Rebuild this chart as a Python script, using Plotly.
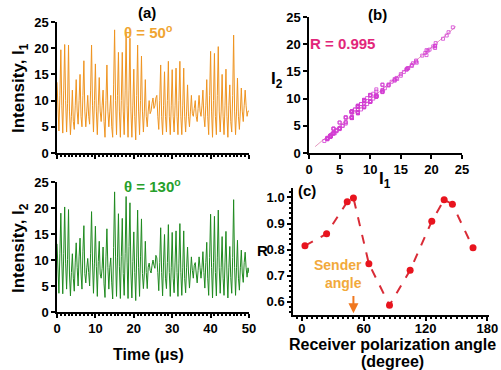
import numpy as np
import plotly.graph_objects as go

# ---------------- data ----------------
dt_us = 0.25  # sampling step of the traces (µs)
I1 = [13.5, 7, 4.2, 11, 19.7, 9, 3.8, 12, 20.7, 10, 4.0, 9.5, 20.6, 8, 3.5, 7, 12, 6, 4.5, 9,
      14, 8, 5.5, 10, 15, 7, 5, 11, 17.6, 8, 5, 8, 11, 7, 5.5, 12, 20.6, 9, 4, 10,
      17, 8, 3.5, 9, 14.4, 8, 6, 9, 12, 6, 3, 10, 16.8, 8, 5, 8, 11, 5, 3, 13,
      23.5, 10, 3.5, 11, 19.2, 8, 3, 10, 19.2, 8, 3.5, 12, 22.8, 9, 3, 12, 21.9, 8, 3, 9,
      16, 7, 2.5, 11, 20.6, 8, 3.5, 10, 18.5, 8, 4, 8, 14, 7, 5, 8, 10, 7.5, 8, 9.5,
      10.5, 8.5, 9, 10.5, 11, 7, 4.5, 10, 16.8, 7, 3.5, 9, 15.5, 7, 4, 10, 17.5, 7, 3.5, 9,
      15.9, 7, 4, 9, 16.2, 7, 3.5, 10, 17.5, 7, 3.5, 9, 16.2, 7, 4, 8, 13, 7, 5, 8,
      11, 7.5, 7, 8.5, 10, 7, 6, 8.5, 11, 8, 7, 9, 12, 7, 5, 9, 14, 7, 3.5, 11,
      19.4, 8, 3, 10, 19, 7, 3.5, 11, 20.3, 8, 4, 8, 15, 7, 3.5, 9, 16, 7, 3, 9,
      13, 6, 4, 11, 22.5, 8, 3.5, 8, 14.3, 7, 4.5, 8, 12.4, 8, 6, 9, 12, 9, 7, 8, 8]
I2 = [13.1, 7.6, 3.6, 11.3, 19.0, 9.8, 3.5, 11.2, 20.2, 9.4, 4.4, 10.1, 19.7, 7.3, 3.1, 7.6, 11.2, 6.5, 4.0, 9.6,
      13.3, 8.6, 5.0, 10.6, 14.2, 7.5, 4.4, 11.7, 16.6, 7.4, 5.6, 8.5, 10.3, 7.6, 5.0, 11.3, 19.3, 9.6, 3.6, 9.4,
      16.5, 8.7, 3.0, 9.7, 13.6, 7.3, 6.5, 8.4, 12.5, 5.4, 2.8, 10.6, 16.0, 8.6, 4.4, 8.6, 10.4, 5.6, 2.5, 12.4,
      23.1, 10.6, 3.0, 10.4, 18.9, 8.7, 2.6, 10.7, 18.0, 7.4, 3.2, 11.3, 22.2, 9.6, 2.6, 12.6, 21.0, 7.5, 2.7, 9.7,
      15.4, 7.6, 2.2, 10.4, 19.6, 8.6, 3.0, 10.6, 17.9, 7.4, 4.5, 7.5, 13.6, 7.6, 4.5, 8.6, 9.4, 8.0, 7.5, 9.0,
      10.0, 9.0, 8.4, 10.9, 10.4, 7.6, 4.1, 9.5, 16.2, 7.6, 3.1, 9.6, 14.9, 6.5, 4.5, 9.5, 16.8, 7.6, 3.0, 8.5,
      15.3, 6.5, 3.7, 9.6, 15.6, 7.6, 3.0, 9.4, 17.0, 7.6, 3.2, 8.5, 15.6, 6.4, 3.7, 8.6, 12.5, 7.5, 4.6, 7.5,
      10.6, 8.0, 6.5, 9.0, 9.5, 7.5, 5.6, 8.0, 10.6, 8.5, 6.5, 8.5, 11.6, 7.6, 4.6, 9.5, 13.4, 6.5, 3.2, 10.5,
      18.8, 8.6, 2.7, 9.5, 18.4, 7.6, 3.1, 10.4, 19.6, 8.5, 3.6, 8.6, 14.5, 6.5, 3.2, 9.6, 15.5, 7.5, 2.7, 8.5,
      12.6, 6.6, 3.6, 10.5, 21.6, 8.6, 3.2, 8.6, 13.8, 6.5, 4.2, 8.5, 11.9, 7.5, 5.7, 9.5, 11.5, 8.5, 6.7, 8.5, 7.5]
time_us = np.arange(len(I1)) * dt_us

angle_deg = [3, 24, 44, 50, 65, 85, 105, 126, 138, 146, 166]
R_vals = [0.815, 0.861, 0.983, 0.998, 0.746, 0.587, 0.721, 0.909, 0.991, 0.974, 0.807]
sender_angle = 50
R_text = "R = 0.995"

# ---------------- helpers ----------------
W, H = 501, 370
def px(x):
    return x / W
def py(y):
    return 1 - y / H

FONT = "Liberation Sans, Arial, Helvetica, sans-serif"
ORANGE = "#ef9420"
GREEN = "#1f8a1f"

fig = go.Figure()
fig.add_trace(go.Scatter(x=time_us, y=I1, mode="lines", line=dict(color=ORANGE, width=1),
                         xaxis="x", yaxis="y", showlegend=False))
fig.add_trace(go.Scatter(x=time_us, y=I2, mode="lines", line=dict(color=GREEN, width=1),
                         xaxis="x2", yaxis="y2", showlegend=False))

# scatter I2 vs I1 with fitted line
slope, icpt = np.polyfit(I1, I2, 1)
xfit = np.array([1.0, 24.0])
fig.add_trace(go.Scatter(x=xfit, y=slope * xfit + icpt, mode="lines",
                         line=dict(color="#e59ac0", width=1), xaxis="x3", yaxis="y3", showlegend=False))
fig.add_trace(go.Scatter(x=I1, y=I2, mode="markers",
                         marker=dict(symbol="square-open", size=3, color="#d33fd3", line=dict(width=0.8)),
                         xaxis="x3", yaxis="y3", showlegend=False))

# R vs angle
fig.add_trace(go.Scatter(x=angle_deg, y=R_vals, mode="lines+markers",
                         line=dict(color="#d92b36", width=2, dash="dash"),
                         marker=dict(color="#e8141e", size=7),
                         xaxis="x4", yaxis="y4", showlegend=False))

axis_common = dict(showline=True, linecolor="black", linewidth=1.5, ticks="outside", ticklen=4,
                   tickwidth=1.5, tickcolor="black", showgrid=False, zeroline=False, automargin=False,
                   ticklabeloverflow="allow",
                   tickfont=dict(family=FONT, size=13, color="black", weight="bold"))

fig.update_layout(
    width=W, height=H, margin=dict(l=0, r=0, t=0, b=0, autoexpand=False),
    paper_bgcolor="white", plot_bgcolor="white",
    xaxis=dict(axis_common, domain=[px(57), px(249)], range=[0, 50], anchor="y", dtick=10,
               showticklabels=False, minor=dict(ticks="outside", ticklen=2.5, dtick=1, tickcolor="black")),
    yaxis=dict(axis_common, domain=[py(153), py(22)], range=[0, 25], anchor="x", dtick=5),
    xaxis2=dict(axis_common, domain=[px(57), px(249)], range=[0, 50], anchor="y2", dtick=10,
                minor=dict(ticks="outside", ticklen=2.5, dtick=1, tickcolor="black")),
    yaxis2=dict(axis_common, domain=[py(312), py(182)], range=[0, 25], anchor="x2", dtick=5),
    xaxis3=dict(axis_common, domain=[px(309), px(462)], range=[0, 25], anchor="y3", dtick=5),
    yaxis3=dict(axis_common, domain=[py(153), py(17)], range=[0, 25], anchor="x3", dtick=5),
    xaxis4=dict(axis_common, domain=[px(293), px(489)], range=[-8.6, 181.5], anchor="y4",
                tickmode="linear", tick0=0, dtick=60, ticklabelstandoff=-3,
                minor=dict(ticks="outside", ticklen=2.5, dtick=5, tickcolor="black")),
    yaxis4=dict(axis_common, domain=[py(315), py(188)], range=[0.55, 1.036], anchor="x4",
                tickvals=[0.6, 0.7, 0.8, 0.9, 1.0], ticktext=["0.6", "0.7", "0.8", "0.9", "1.0"],
                minor=dict(ticks="outside", ticklen=2.5, dtick=0.02, tickcolor="black")),
)

def label(text, x, y, size=14, color="black", angle=0, xanchor="center"):
    fig.add_annotation(text=text, x=px(x), y=py(y), xref="paper", yref="paper", showarrow=False,
                       xanchor=xanchor, yanchor="middle", textangle=angle,
                       font=dict(family=FONT, size=size, color=color, weight="bold"))

label("(a)", 147, 12, 15)
label("θ = 50<sup>o</sup>", 148, 31, 15, "#f0a532")
label("θ = 130<sup>o</sup>", 152, 185, 15, "#27a02b")
label("Intensity, I<sub>1</sub>", 20, 88, 17, angle=-90)
label("Intensity, I<sub>2</sub>", 20, 248, 17, angle=-90)
label("Time (μs)", 148, 354, 16)
label("(b)", 377, 14, 15)
label(R_text, 342, 43, 15, "#e2267a")
label("I<sub>2</sub>", 277, 80, 17)
label("I<sub>1</sub>", 385, 180, 17)
label("(c)", 296, 191, 15, xanchor="left")
label("R", 262, 250, 15)
label("Receiver polarization angle", 392, 344, 16)
label("(degree)", 392, 361, 16)

fig.add_annotation(text="Sender<br>angle", x=60, y=0.706, xref="x4", yref="y4",
                   xanchor="right", align="right", showarrow=False,
                   font=dict(family=FONT, size=14, color="#f2a93b", weight="bold"))
fig.add_annotation(text="", x=sender_angle, y=0.557, ax=sender_angle, ay=0.628,
                   xref="x4", yref="y4", axref="x4", ayref="y4", showarrow=True,
                   arrowhead=2, arrowsize=1, arrowwidth=2, arrowcolor="#f07820")

fig.write_html("out.html")
